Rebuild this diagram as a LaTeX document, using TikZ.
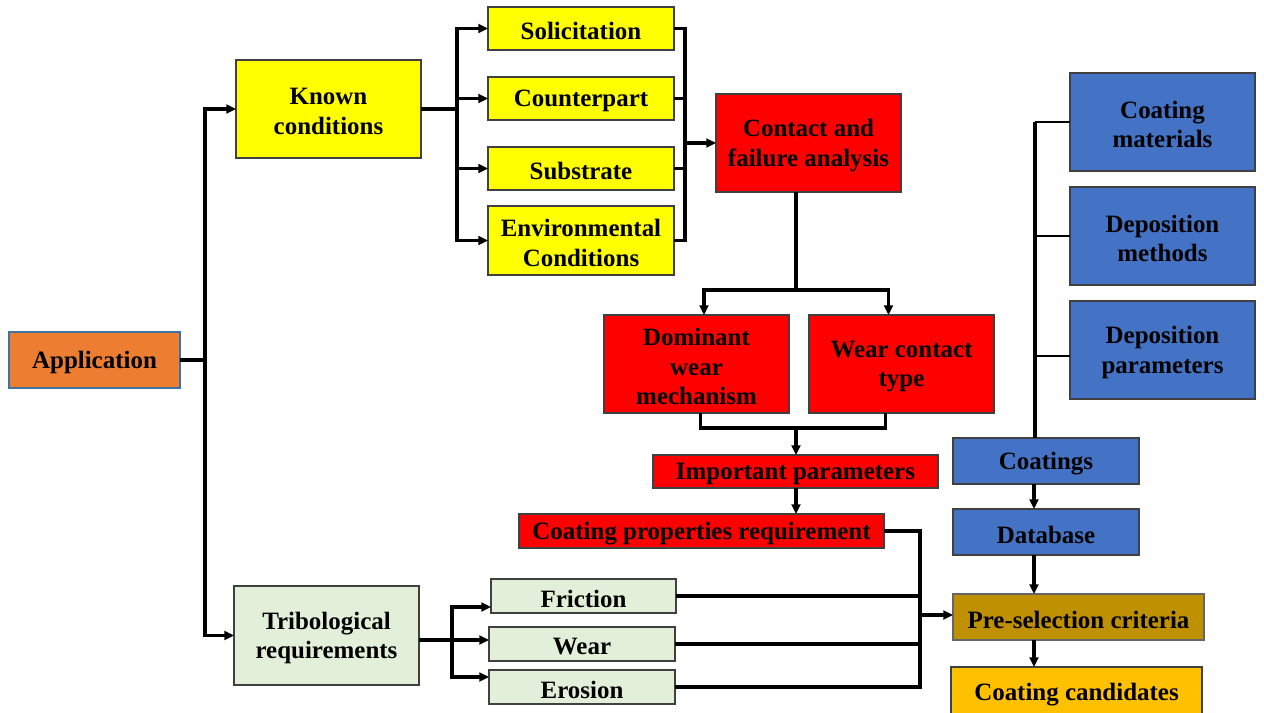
\documentclass[tikz,border=0pt]{standalone}
\usepackage{fontspec}
\setmainfont{Liberation Serif}
\usetikzlibrary{arrows.meta,calc}
\definecolor{cyel}{HTML}{FFFF00}
\definecolor{cred}{HTML}{FF0000}
\definecolor{cblu}{HTML}{4472C4}
\definecolor{cgrn}{HTML}{E2F0D9}
\definecolor{corg}{HTML}{ED7D31}
\definecolor{corgb}{HTML}{41719C}
\definecolor{cpre}{HTML}{BF9000}
\definecolor{ccand}{HTML}{FFC000}
\newcommand\pbox[7]{%
  \node[#1, minimum width={(#5-#3)*0.02cm}, minimum height={(#6-#4)*0.02cm}] (#2) at ({(#3+#5)/2},{(#4+#6)/2}) {};
  \node[txt] (#2-t) at ($(#2.center)+(0,2.5)$) {#7};}
\begin{document}
\begin{tikzpicture}[x=0.02cm,y=-0.02cm,
  >={Triangle[length=5.5pt,width=5pt]},
  ln/.style={line width=1.9pt, black},
  thn/.style={line width=1.3pt, black},
  box/.style={draw=black!75, line width=0.8pt, inner sep=0pt, outer sep=0pt},
  txt/.style={inner sep=0pt, align=center, font=\fontsize{14.2}{17}\selectfont\bfseries},
  yb/.style={box, fill=cyel},
  rb/.style={box, fill=cred},
  bb/.style={box, fill=cblu},
  gb/.style={box, fill=cgrn},
  ob/.style={box, fill=corg, draw=corgb},
  pb/.style={box, fill=cpre, draw=black!60},
  cb/.style={box, fill=ccand}]
\useasboundingbox (0,0) rectangle (1264,713);
\fill[white] (0,0) rectangle (1264,713);

\pbox{ob}{app}{9}{332}{180}{388}{Application}
\pbox{yb}{known}{236}{60}{421}{158}{Known\\conditions}
\pbox{yb}{sol}{488}{7}{674}{50}{Solicitation}
\pbox{yb}{cp}{488}{77}{674}{120}{Counterpart}
\pbox{yb}{sub}{488}{147}{674}{190}{Substrate}
\pbox{yb}{env}{488}{206}{674}{275}{Environmental\\Conditions}
\pbox{rb}{caf}{716}{94}{901}{192}{Contact and\\failure analysis}
\pbox{rb}{dom}{604}{315}{789}{413}{Dominant\\wear\\mechanism}
\pbox{rb}{wct}{809}{315}{994}{413}{Wear contact\\type}
\pbox{rb}{imp}{653}{455}{938}{488}{Important parameters}
\pbox{rb}{cpr}{519}{514}{884}{548}{Coating properties requirement}
\pbox{bb}{cmat}{1070}{73}{1255}{171}{Coating\\materials}
\pbox{bb}{dmet}{1070}{187}{1255}{285}{Deposition\\methods}
\pbox{bb}{dpar}{1070}{301}{1255}{399}{Deposition\\parameters}
\pbox{bb}{coat}{953}{438}{1139}{484}{Coatings}
\pbox{bb}{db}{953}{509}{1139}{555}{Database}
\pbox{pb}{pre}{953}{594}{1204}{640}{Pre-selection criteria}
\pbox{cb}{cand}{951}{667}{1202}{717}{Coating candidates}
\pbox{gb}{trib}{234}{586}{419}{685}{Tribological\\requirements}
\pbox{gb}{fri}{491}{579}{676}{613}{Friction}
\pbox{gb}{wear}{489}{627}{675}{661}{Wear}
\pbox{gb}{ero}{489}{670}{675}{704}{Erosion}

% application bus
\coordinate (bA) at (205,360);
\draw[ln] (app.east) -- (app.east -| bA);
\draw[ln,<->] (known.west) -| (bA) |- (trib.west);

% known conditions bus
\coordinate (bK) at (457,109);
\draw[ln] (known.east) -- (known.east -| bK);
\draw[ln,<->] (sol.west) -| (bK) |- (env.west);
\draw[ln,->] (bK |- cp.west) -- (cp.west);
\draw[ln,->] (bK |- sub.west) -- (sub.west);

% yellow to contact
\coordinate (bY) at (685,143);
\draw[ln] (sol.east) -| (bY) |- (env.east);
\draw[ln] (cp.east) -- (cp.east -| bY);
\draw[ln] (sub.east) -- (sub.east -| bY);
\draw[ln,->] (bY) -- (caf.west);

% contact to dominant / wear contact
\coordinate (bC) at (796,290);
\draw[ln] (caf.south -| bC) -- (bC);
\draw[ln,<->] ($(dom.north)+(7.5,0)$) |- (bC) -| ($(wct.north)+(-13,0)$);

% to important parameters
\coordinate (bD) at (796,428);
\draw[ln] ($(dom.south)+(4,0)$) |- (bD) -| ($(wct.south)+(-16,0)$);
\draw[ln,->] (bD) -- (imp.north -| bD);
\draw[ln,->] (imp.south -| bD) -- (cpr.north -| bD);

% to pre-selection
\coordinate (bP) at (920,615);
\draw[ln] (cpr.east) -| (bP) |- (ero.east);
\draw[ln] (fri.east) -- (fri.east -| bP);
\draw[ln] (wear.east) -- (wear.east -| bP);
\draw[ln,->] (bP) -- (pre.west |- bP);

% tribological bus
\coordinate (bT) at (452,640);
\draw[ln] (trib.east |- bT) -- (bT);
\draw[ln,<->] ($(fri.west)+(0,11)$) -| (bT) |- ($(ero.west)+(0,-10)$);
\draw[ln,->] (bT) -- (wear.west |- bT);

% blue bus
\coordinate (bB) at (1035,122);
\draw[thn] (cmat.west |- bB) -- (bB);
\draw[ln] (bB) -- (bB |- coat.north);
\draw[thn] (dmet.west) -- (dmet.west -| bB);
\draw[thn] ($(dpar.west)+(0,6)$) -- ($(dpar.west -| bB)+(0,6)$);

% right column chain
\coordinate (bR) at (1034,0);
\draw[ln,->] (coat.south -| bR) -- (db.north -| bR);
\draw[ln,->] (db.south -| bR) -- (pre.north -| bR);
\draw[ln,->] (pre.south -| bR) -- (cand.north -| bR);
\end{tikzpicture}
\end{document}
